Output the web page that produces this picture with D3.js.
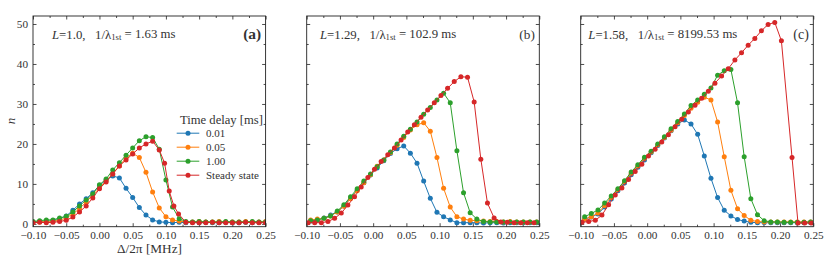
<!DOCTYPE html>
<html><head><meta charset="utf-8">
<script src="https://cdn.jsdelivr.net/npm/d3@7"></script>
<style>
body{margin:0;background:#fff}
svg{display:block}
text{font-family:"Liberation Serif","Times New Roman",serif;fill:#333}
</style>
</head><body><svg id="chart" width="830" height="260"></svg>
<script>
// ---------------- data ----------------
const seriesNames = ["0.01", "0.05", "1.00", "Steady state"];
const seriesColors = ["#1f77b4", "#ff7f0e", "#2ca02c", "#d62728"];
const xTicks = [-0.10, -0.05, 0.00, 0.05, 0.10, 0.15, 0.20, 0.25];
const yTicks = [0, 10, 20, 30, 40, 50];
const panelLetters = ["(a)", "(b)", "(c)"];
const panelL = ["1.0", "1.29", "1.58"];
const panelLifetime = ["1.63", "102.9", "8199.53"];

// Panel (a)
const xDelayA = [-0.10,-0.09,-0.08,-0.07,-0.06,-0.05,-0.04,-0.03,-0.02,-0.01,0.00,0.01,0.02,0.03,0.04,0.05,0.06,0.07,0.08,0.09,0.10,0.11,0.12,0.13,0.14,0.15,0.16,0.17,0.18,0.19,0.20,0.21,0.22,0.23,0.24,0.25];
const blueA   = [0.5,0.6,0.7,0.8,1.2,2.0,3.4,5.0,6.3,7.8,9.6,11.0,12.0,11.5,8.9,6.6,4.1,2.2,1.0,0.5,0.4,0.3,0.4,0.3,0.4,0.3,0.4,0.3,0.3,0.4,0.3,0.3,0.4,0.3,0.4,0.5];
const orangeA = [0.4,0.5,0.6,0.7,0.9,1.5,2.5,3.8,5.5,7.2,9.0,10.8,12.5,14.5,16.5,17.7,16.6,12.9,8.0,4.0,1.8,1.0,0.7,0.5,0.5,0.6,0.5,0.5,0.6,0.5,0.5,0.5,0.6,0.5,0.5,0.6];
const greenA  = [0.6,0.8,1.0,1.0,1.5,1.9,3.0,4.5,6.0,7.5,9.8,11.2,13.5,15.3,17.2,19.0,20.8,21.8,21.6,18.7,11.0,4.2,1.3,0.6,0.5,0.6,0.5,0.5,0.5,0.6,0.5,0.5,0.5,0.6,0.5,0.5];
const xSteadyA = [-0.10,-0.09,-0.08,-0.07,-0.06,-0.05,-0.04,-0.03,-0.02,-0.01,0.00,0.01,0.02,0.03,0.04,0.05,0.06,0.07,0.08,0.09,0.098,0.105,0.112,0.119,0.13,0.14,0.15,0.16,0.17,0.18,0.19,0.20,0.21,0.22,0.23,0.24,0.25];
const redA    = [0.3,0.4,0.3,0.4,0.6,0.9,1.7,3.0,4.5,6.5,8.8,10.5,12.5,14.5,16.0,17.5,19.0,20.0,20.7,18.5,15.2,8.2,4.5,2.5,0.4,0.3,0.3,0.3,0.4,0.3,0.3,0.3,0.3,0.4,0.3,0.3,0.3];

// Panel (b)
const xDelayB = [-0.094,-0.084,-0.074,-0.064,-0.054,-0.044,-0.034,-0.024,-0.014,-0.004,0.006,0.016,0.026,0.036,0.046,0.056,0.066,0.076,0.086,0.096,0.106,0.116,0.126,0.136,0.146,0.156,0.166,0.176,0.186,0.196,0.206,0.216,0.226,0.236,0.246];
const blueB   = [0.7,1.0,1.5,2.2,3.0,4.5,6.5,8.4,10.3,12.2,14.0,15.8,17.6,18.8,19.5,17.7,15.2,10.7,6.4,2.9,1.8,1.0,0.3,0.3,0.3,0.3,0.2,0.3,0.3,0.2,0.3,0.3,0.3,0.3,0.3];
const orangeB = [1.0,1.2,1.4,2.0,3.0,4.4,6.3,8.3,10.3,12.3,14.4,16.0,17.8,19.7,21.6,23.5,24.8,25.3,23.2,16.6,8.9,4.2,1.8,1.2,0.9,0.8,0.7,0.6,0.6,0.5,0.6,0.5,0.5,0.5,0.5];
const greenB  = [0.8,1.0,1.4,2.0,3.2,4.8,6.8,8.8,10.7,12.5,14.3,16.0,18.0,20.0,21.9,23.7,25.5,27.4,29.1,31.0,32.7,30.3,18.3,7.8,2.8,1.2,0.6,0.5,0.5,0.5,0.5,0.5,0.5,0.5,0.5];
const xSteadyB = [-0.098,-0.088,-0.078,-0.068,-0.058,-0.048,-0.038,-0.028,-0.018,-0.008,0.002,0.012,0.022,0.032,0.042,0.052,0.062,0.072,0.082,0.092,0.102,0.112,0.122,0.132,0.142,0.152,0.162,0.172,0.182,0.192,0.202,0.212,0.222,0.232,0.242];
const redB    = [0.3,0.3,0.3,0.6,1.4,2.7,4.7,6.8,9.2,11.6,13.7,15.6,17.3,19.0,21.0,23.0,24.8,26.7,28.5,30.3,32.1,33.9,35.6,36.8,36.7,30.5,16.2,5.2,1.5,0.5,0.4,0.3,0.3,0.3,0.3];

// Panel (c)
const xDelayC = [-0.094,-0.084,-0.074,-0.064,-0.054,-0.044,-0.034,-0.024,-0.014,-0.004,0.006,0.016,0.026,0.036,0.046,0.056,0.066,0.076,0.086,0.096,0.106,0.116,0.126,0.136,0.146,0.156,0.166,0.176,0.186,0.196,0.206,0.216,0.226,0.236,0.246];
const blueC   = [1.2,1.7,2.5,4.2,6.2,8.3,10.2,12.3,14.2,16.0,17.8,19.6,21.5,23.3,25.0,26.0,25.0,22.4,17.0,11.4,6.6,3.4,2.0,1.1,0.7,0.4,0.3,0.3,0.3,0.3,0.3,0.3,0.3,0.3,0.3];
const orangeC = [1.2,1.8,2.7,4.6,6.6,8.6,10.6,12.7,14.5,16.4,18.0,19.8,21.6,23.4,25.3,27.1,28.9,30.4,31.7,31.0,25.5,16.8,8.4,3.8,2.1,0.9,0.6,0.5,0.5,0.5,0.5,0.5,0.5,0.5,0.5];
const greenC  = [1.8,2.6,3.5,5.2,7.0,8.8,10.8,13.0,14.8,16.7,18.2,20.0,21.8,23.8,25.6,27.5,29.6,31.0,32.4,34.0,37.2,38.3,38.6,30.3,16.8,6.3,2.3,0.8,0.5,0.5,0.4,0.4,0.4,0.4,0.5];
const xSteadyC = [-0.098,-0.088,-0.078,-0.068,-0.058,-0.048,-0.038,-0.028,-0.018,-0.008,0.002,0.012,0.022,0.032,0.042,0.052,0.062,0.072,0.082,0.092,0.102,0.112,0.122,0.132,0.142,0.152,0.162,0.172,0.182,0.192,0.202,0.218,0.227,0.237,0.247];
const redC    = [0.4,0.6,0.9,2.2,4.8,7.2,9.0,11.1,13.1,14.9,17.0,18.7,20.5,22.3,24.3,26.2,28.0,29.7,31.4,33.2,35.2,37.0,38.8,41.0,42.8,44.7,46.4,48.3,49.9,50.4,45.8,16.6,0.2,0.2,0.2];

const panels = [
  {xd: xDelayA, ys: [blueA, orangeA, greenA], xs: xSteadyA, red: redA},
  {xd: xDelayB, ys: [blueB, orangeB, greenB], xs: xSteadyB, red: redB},
  {xd: xDelayC, ys: [blueC, orangeC, greenC], xs: xSteadyC, red: redC}
];

// ---------------- layout ----------------
const svg = d3.select("#chart");
const lefts = [33, 306.7, 580.7];
const pw = 232.6, topY = 16, bottomY = 226.7;
const textStart = [52, 320, 588.3];

// size a text so that its rendered width matches a target width
function fitWidth(sel, nominal, target) {
  sel.attr("font-size", nominal);
  const w = sel.node().getBBox().width;
  const s = w > 0 ? nominal * target / w : nominal;
  sel.attr("font-size", s);
  return s;
}

const yScale = d3.scaleLinear().domain([-0.7, 52]).range([bottomY, topY]);
let tickFont = null, annFont = null;

panels.forEach((p, i) => {
  const g = svg.append("g");
  const x = d3.scaleLinear().domain([-0.1, 0.25]).range([lefts[i], lefts[i] + pw]);
  const y = yScale;

  const clipId = "clip" + i;
  svg.append("clipPath").attr("id", clipId).append("rect")
    .attr("x", lefts[i]).attr("y", topY).attr("width", pw).attr("height", bottomY - topY);

  const xMinor = [-0.075, -0.025, 0.025, 0.075, 0.125, 0.175, 0.225];
  const yMinor = [5, 15, 25, 35, 45];

  const bAxis = g.append("g").attr("transform", `translate(0,${bottomY})`)
    .call(d3.axisBottom(x).tickValues(xTicks).tickSize(-3.5).tickPadding(4).tickFormat(d3.format(".2f")));
  g.append("g").attr("transform", `translate(0,${bottomY})`)
    .call(d3.axisBottom(x).tickValues(xMinor).tickSize(-2).tickFormat(""));
  g.append("g").attr("transform", `translate(0,${topY})`)
    .call(d3.axisTop(x).tickValues(xTicks).tickSize(-3.5).tickFormat(""));
  g.append("g").attr("transform", `translate(0,${topY})`)
    .call(d3.axisTop(x).tickValues(xMinor).tickSize(-2).tickFormat(""));
  g.append("g").attr("transform", `translate(${lefts[i]},0)`)
    .call(d3.axisLeft(y).tickValues(yTicks).tickSize(-3.5).tickPadding(5).tickFormat(i === 0 ? d3.format("d") : ""));
  g.append("g").attr("transform", `translate(${lefts[i]},0)`)
    .call(d3.axisLeft(y).tickValues(yMinor).tickSize(-2).tickFormat(""));
  g.append("g").attr("transform", `translate(${lefts[i] + pw},0)`)
    .call(d3.axisRight(y).tickValues(yTicks).tickSize(-3.5).tickFormat(""));
  g.append("g").attr("transform", `translate(${lefts[i] + pw},0)`)
    .call(d3.axisRight(y).tickValues(yMinor).tickSize(-2).tickFormat(""));

  g.selectAll(".domain").remove();
  g.selectAll(".tick line").attr("stroke", "#222").attr("stroke-width", 0.8);
  g.selectAll(".tick text").attr("fill", "#333")
    .style("font-family", '"Liberation Serif","Times New Roman",serif');
  if (tickFont === null) {
    tickFont = fitWidth(bAxis.select(".tick text"), 11, 26.5);
  }
  g.selectAll(".tick text").attr("font-size", tickFont);

  const dg = svg.append("g").attr("clip-path", `url(#${clipId})`);
  const line = d3.line().x(d => x(d[0])).y(d => y(d[1]));
  const all = [
    {pts: p.xd.map((v, k) => [v, p.ys[0][k]]), c: seriesColors[0]},
    {pts: p.xd.map((v, k) => [v, p.ys[1][k]]), c: seriesColors[1]},
    {pts: p.xd.map((v, k) => [v, p.ys[2][k]]), c: seriesColors[2]},
    {pts: p.xs.map((v, k) => [v, p.red[k]]), c: seriesColors[3]}
  ];
  all.forEach(s => {
    const sg = dg.append("g");
    sg.append("path").datum(s.pts).attr("d", line).attr("fill", "none")
      .attr("stroke", s.c).attr("stroke-width", 1);
    sg.selectAll("circle").data(s.pts).join("circle")
      .attr("cx", d => x(d[0])).attr("cy", d => y(d[1])).attr("r", 2.5).attr("fill", s.c);
  });

  svg.append("rect").attr("x", lefts[i]).attr("y", topY).attr("width", pw).attr("height", bottomY - topY)
    .attr("fill", "none").attr("stroke", "#222").attr("stroke-width", 0.9);

  const t = svg.append("text").attr("x", textStart[i]).attr("y", 38.5).attr("xml:space", "preserve");
  t.append("tspan").attr("font-style", "italic").text("L");
  t.append("tspan").text("=" + panelL[i] + ",   1/λ");
  t.append("tspan").attr("font-size", "68%").attr("dy", "0.22em").text("1st");
  t.append("tspan").attr("dy", "-0.15em").text(" = " + panelLifetime[i] + " ms");
  if (annFont === null) annFont = fitWidth(t, 12, 125);
  t.attr("font-size", annFont);

  const lt = svg.append("text").attr("x", lefts[i] + pw - 4.5).attr("y", 38.5).attr("text-anchor", "end")
    .attr("font-weight", i === 0 ? "bold" : "normal").text(panelLetters[i]);
  fitWidth(lt, 12, i === 0 ? 18 : 15.5);
});

const lg = svg.append("g");
const rowTexts = [];
seriesNames.forEach((n, k) => {
  const yy = 133.2 + 14 * k;
  lg.append("line").attr("x1", 176.7).attr("x2", 199.3).attr("y1", yy).attr("y2", yy)
    .attr("stroke", seriesColors[k]).attr("stroke-width", 1);
  lg.append("circle").attr("cx", 188).attr("cy", yy).attr("r", 2.5).attr("fill", seriesColors[k]);
  rowTexts.push(lg.append("text").attr("x", 206).attr("y", yy + 3.8).text(n));
});
const legFont = fitWidth(rowTexts[3], 11, 53);
rowTexts.forEach(r => r.attr("font-size", legFont));
const title = lg.append("text").attr("x", 221.5).attr("y", 127).attr("text-anchor", "middle").text("Time delay [ms]");
fitWidth(title, 11, 83);
// keep the title clear of the first entry
const rTop = rowTexts[0].node().getBBox().y;
const tb = title.node().getBBox();
if (tb.y + tb.height > rTop - 0.3) title.attr("y", 127 - (tb.y + tb.height - rTop + 0.3));

const xl = svg.append("text").attr("x", 149.5).attr("y", 252.5).attr("text-anchor", "middle").text("Δ/2π [MHz]");
fitWidth(xl, 12, 65);
svg.append("text").attr("transform", "translate(14.5,121) rotate(-90)").attr("text-anchor", "middle")
  .attr("font-size", 13).attr("font-style", "italic").text("n");
</script></body></html>
